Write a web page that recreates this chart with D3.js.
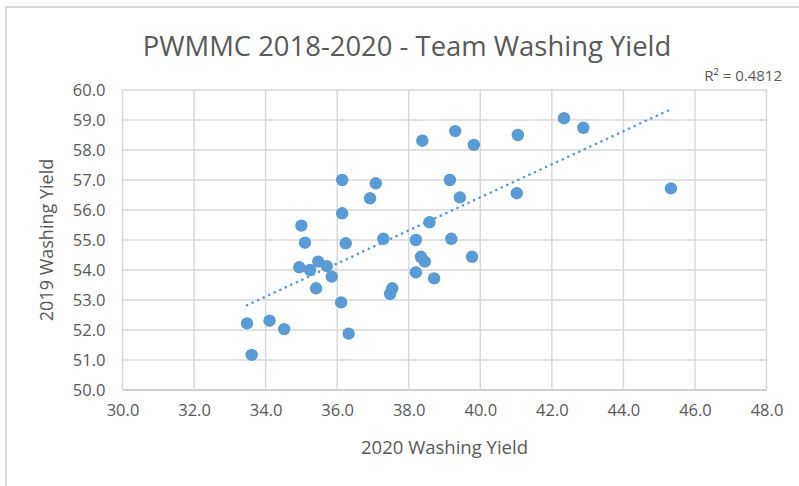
<!DOCTYPE html>
<html>
<head>
<meta charset="utf-8">
<script src="https://cdn.jsdelivr.net/npm/d3@7"></script>
<style>
  html, body { margin: 0; padding: 0; background: #ffffff; }
  svg { display: block; }
  text { font-family: "Open Sans", "Noto Sans", sans-serif; fill: #595959; }
</style>
</head>
<body>
<svg id="chart" width="799" height="486"></svg>
<script>
// ---- Data ----
const title = "PWMMC 2018-2020 - Team Washing Yield";
const xAxisTitle = "2020 Washing Yield";
const yAxisTitle = "2019 Washing Yield";
const r2Label = "R² = 0.4812";

const yield2020 = [36.14, 36.14, 35.00, 35.10, 36.24, 34.94, 35.24, 35.47, 35.71, 35.85,
                   35.41, 36.11, 33.48, 34.11, 34.52, 33.61, 36.32, 38.38, 39.30, 39.82,
                   41.05, 42.34, 42.88, 37.08, 36.92, 39.15, 39.43, 41.02, 38.58, 37.29,
                   38.20, 39.19, 38.34, 38.45, 39.77, 38.20, 38.71, 37.54, 37.48, 45.33];
const yield2019 = [57.00, 55.89, 55.48, 54.91, 54.89, 54.09, 54.00, 54.28, 54.13, 53.78,
                   53.39, 52.92, 52.22, 52.31, 52.03, 51.17, 51.88, 58.31, 58.63, 58.17,
                   58.50, 59.06, 58.74, 56.89, 56.39, 57.00, 56.42, 56.56, 55.59, 55.04,
                   55.00, 55.04, 54.44, 54.28, 54.44, 53.92, 53.72, 53.39, 53.20, 56.72];

const xTicks = [30, 32, 34, 36, 38, 40, 42, 44, 46, 48];
const yTicks = [50, 51, 52, 53, 54, 55, 56, 57, 58, 59, 60];
const xDomain = [30, 48];
const yDomain = [50, 60];

// ---- Layout ----
const svg = d3.select("#chart");
const plot = { left: 122.5, right: 766.5, top: 90, bottom: 390 };
const blue = "#5b9bd5";
const gridColor = "#d9d9d9";

const x = d3.scaleLinear().domain(xDomain).range([plot.left, plot.right]);
const y = d3.scaleLinear().domain(yDomain).range([plot.bottom, plot.top]);

// outer frame (top and left edges visible)
svg.append("path")
  .attr("d", `M6,486 L6,7 L799,7`)
  .attr("fill", "none").attr("stroke", "#d9d9d9").attr("stroke-width", 2);

// gridlines
const gy = svg.append("g");
gy.selectAll("line.h").data(yTicks).join("line")
  .attr("x1", plot.left).attr("x2", plot.right)
  .attr("y1", d => y(d)).attr("y2", d => y(d))
  .attr("stroke", (d) => d === yDomain[0] ? "#bfbfbf" : gridColor)
  .attr("stroke-width", 1.5);
gy.selectAll("line.v").data(xTicks).join("line")
  .attr("y1", plot.top).attr("y2", plot.bottom)
  .attr("x1", d => x(d)).attr("x2", d => x(d))
  .attr("stroke", gridColor).attr("stroke-width", 1.5);

// axis labels via d3 axes (no domain / tick lines)
const xAxis = d3.axisBottom(x).tickValues(xTicks).tickFormat(d3.format(".1f")).tickSize(0).tickPadding(14);
const yAxis = d3.axisLeft(y).tickValues(yTicks).tickFormat(d3.format(".1f")).tickSize(0).tickPadding(17);

const gx = svg.append("g").attr("transform", `translate(0,${plot.bottom})`).call(xAxis);
const gyAxis = svg.append("g").attr("transform", `translate(${plot.left},0)`).call(yAxis);
[gx, gyAxis].forEach(g => {
  g.select(".domain").remove();
  g.selectAll("text").attr("font-size", 16.5).attr("fill", "#595959")
    .attr("font-family", '"Open Sans", sans-serif');
});
gyAxis.selectAll("text").attr("dy", "0.35em");

// trendline (least squares fit of the data)
const n = yield2020.length;
const mx = d3.mean(yield2020), my = d3.mean(yield2019);
let sxy = 0, sxx = 0;
for (let i = 0; i < n; i++) {
  sxy += (yield2020[i] - mx) * (yield2019[i] - my);
  sxx += (yield2020[i] - mx) ** 2;
}
const slope = sxy / sxx, intercept = my - slope * mx;
const [xmin, xmax] = d3.extent(yield2020);
svg.append("line")
  .attr("x1", x(xmin)).attr("y1", y(intercept + slope * xmin))
  .attr("x2", x(xmax)).attr("y2", y(intercept + slope * xmax))
  .attr("stroke", blue).attr("stroke-width", 2.6)
  .attr("stroke-linecap", "round")
  .attr("stroke-dasharray", "0.1 6");

// points
svg.append("g").selectAll("circle").data(d3.range(n)).join("circle")
  .attr("cx", i => x(yield2020[i]))
  .attr("cy", i => y(yield2019[i]))
  .attr("r", 6.2)
  .attr("fill", blue);

// title
const t = svg.append("text")
  .attr("x", 407).attr("y", 56)
  .attr("text-anchor", "middle")
  .attr("font-size", 26)
  .text(title);
const tw = t.node().getComputedTextLength();
t.attr("font-size", 26 * 529 / tw);

// R² label
svg.append("text")
  .attr("x", 782).attr("y", 81)
  .attr("text-anchor", "end")
  .attr("font-size", 15)
  .text(r2Label);

// axis titles
svg.append("text")
  .attr("x", (plot.left + plot.right) / 2).attr("y", 454)
  .attr("text-anchor", "middle")
  .attr("font-size", 18.5)
  .text(xAxisTitle);

svg.append("text")
  .attr("transform", `translate(53,${(plot.top + plot.bottom) / 2}) rotate(-90)`)
  .attr("text-anchor", "middle")
  .attr("font-size", 18)
  .text(yAxisTitle);
</script>
</body>
</html>
